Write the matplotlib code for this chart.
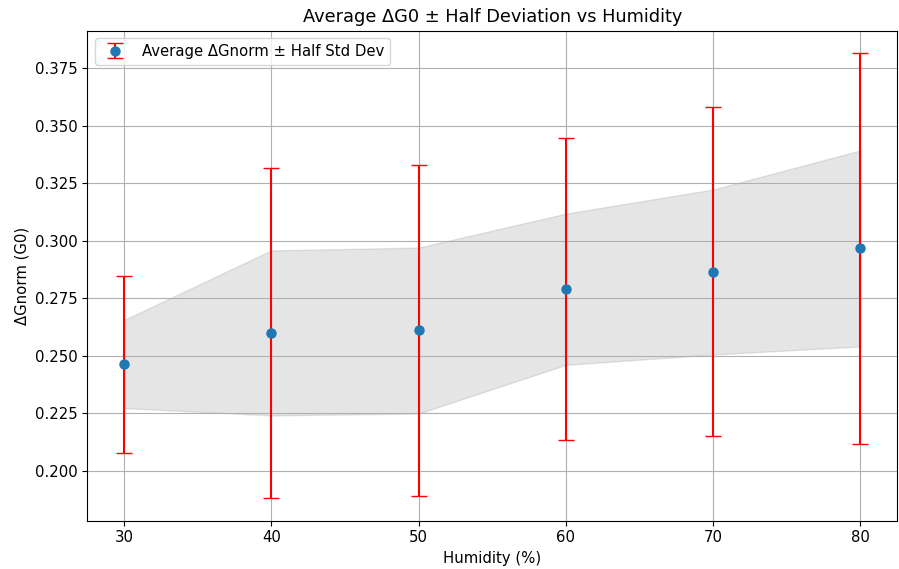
import matplotlib.pyplot as plt

plt.rcParams['font.size'] = 10.7

# Humidity sweep: mean ΔGnorm with half-std-dev spread
humidity = [30, 40, 50, 60, 70, 80]
avg_dg = [0.2462, 0.2597, 0.2610, 0.2790, 0.2865, 0.2967]
half_std = [0.0386, 0.0718, 0.0720, 0.0655, 0.0715, 0.0850]
band_low = [0.2272, 0.2240, 0.2248, 0.2460, 0.2505, 0.2540]
band_high = [0.2655, 0.2958, 0.2970, 0.3118, 0.3223, 0.3393]

fig, ax = plt.subplots(figsize=(8.99, 5.69), dpi=100)
fig.subplots_adjust(left=0.097, right=0.998, top=0.946, bottom=0.085)

ax.fill_between(humidity, band_low, band_high, color='gray', alpha=0.2)
ax.errorbar(humidity, avg_dg, yerr=half_std, fmt='o', ecolor='red',
            capsize=5.5, markersize=6.5, label='Average ΔGnorm ± Half Std Dev')

ax.set_xlabel('Humidity (%)')
ax.set_ylabel('ΔGnorm (G0)')
ax.set_title('Average ΔG0 ± Half Deviation vs Humidity', fontsize=12.8)
ax.legend(loc='upper left')
ax.grid(True)

plt.savefig('out.png', dpi=100)
